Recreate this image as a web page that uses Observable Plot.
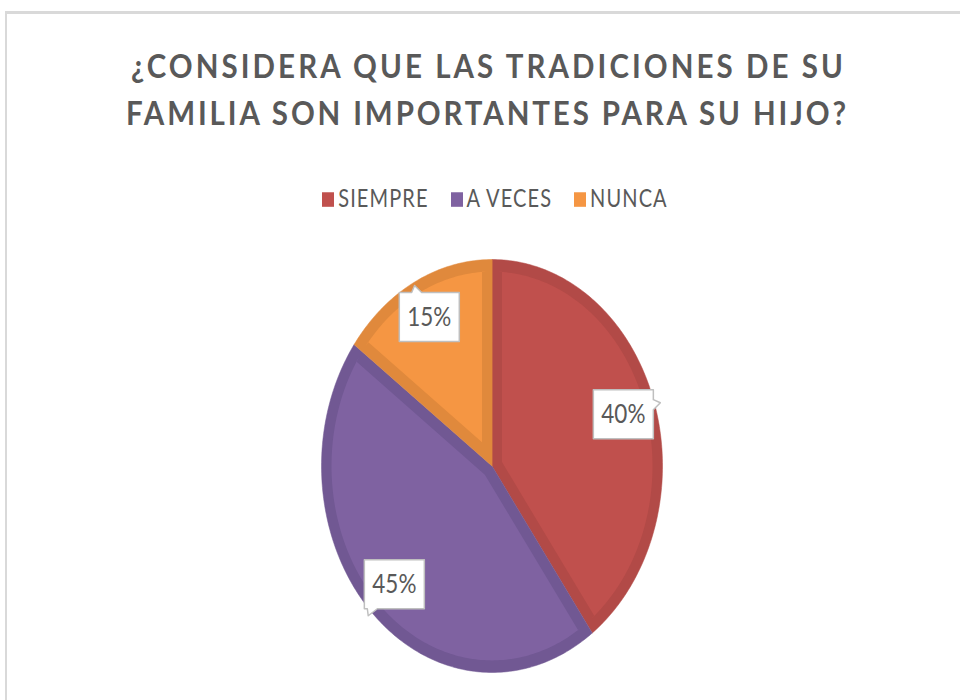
<!DOCTYPE html>
<html>
<head>
<meta charset="utf-8">
<script src="https://cdn.jsdelivr.net/npm/d3@7"></script>
<script src="https://cdn.jsdelivr.net/npm/@observablehq/plot@0.6"></script>
<style>
  html, body { margin: 0; padding: 0; background: #ffffff; }
  body { width: 960px; height: 700px; overflow: hidden; position: relative; font-family: Lato, "Open Sans", sans-serif; }
  #frame { position: absolute; left: 5px; top: 11px; width: 1200px; height: 1200px;
           border-left: 2px solid #d9d9d9; border-top: 3px solid #d9d9d9; box-sizing: border-box; }
  #head { position: relative; width: 960px; height: 230px; }
  .tline { position: absolute; white-space: nowrap; color: #595959; font-weight: 700;
           line-height: 1; transform-origin: 0 0; }
  .mark { display: inline-block; width: 0; height: 0; vertical-align: baseline; }
  #legend { position: absolute; white-space: nowrap; color: #595959; line-height: 1;
            transform-origin: 0 0; display: flex; align-items: baseline; }
  .item { display: inline-flex; align-items: baseline; }
  .sw { display: inline-block; width: 12px; height: 12px; margin-right: 4px; }
  #chart { position: relative; width: 960px; height: 470px; }
  #chart > svg { position: absolute; left: 0; top: 0; }
  #chart > svg.overlay { transform-origin: 0 0; }
</style>
</head>
<body>
<div id="frame"></div>
<div id="head"></div>
<div id="chart"></div>
<script>
// ---------------- data ----------------
const titleLines = ["¿CONSIDERA QUE LAS TRADICIONES DE SU", "FAMILIA SON IMPORTANTES PARA SU HIJO?"];
const categories = ["SIEMPRE", "A VECES", "NUNCA"];
const values = [40, 45, 15];

// ---------------- styles ----------------
const fillColors = ["#C0504D", "#7F62A1", "#F59643"];
const edgeColors = ["#B24A47", "#715893", "#E0893C"];
const textColor = "#595959";

// ---------------- layout ----------------
const W = 960, HEAD = 230, H = 700 - HEAD;
const CX = 491.5, CY = 465.5 - HEAD, RX = 170.5, RY = 206.5;
const K = RY / RX;            // vertical stretch of the whole picture
const BEVEL = 10 / RX;        // bevel band width in unit space
const LABEL_R = 0.81;

// ---------------- title ----------------
const head = document.getElementById("head");
function placeLine(text, left, right, baseline, size, k) {
  const el = document.createElement("div");
  el.className = "tline";
  el.style.fontSize = size + "px";
  const span = document.createElement("span");
  span.textContent = text;
  const mk = document.createElement("span");
  mk.className = "mark";
  el.appendChild(span); el.appendChild(mk);
  head.appendChild(el);
  const natural = span.getBoundingClientRect().width;
  const n = [...text].length;
  const ls = (right - left - natural) / (n - 1);
  el.style.letterSpacing = ls + "px";
  const base = mk.getBoundingClientRect().top - el.getBoundingClientRect().top;
  el.style.left = left + "px";
  el.style.top = (baseline - base * k) + "px";
  el.style.transform = `scale(1, ${k})`;
}
placeLine(titleLines[0], 131, 843, 77.5, 29.5, 1.11);
placeLine(titleLines[1], 126, 846, 125, 29.5, 1.11);

// ---------------- legend ----------------
const legend = document.createElement("div");
legend.id = "legend";
legend.style.fontSize = "20px";
legend.style.letterSpacing = "1.1px";
categories.forEach((c, i) => {
  const it = document.createElement("span");
  it.className = "item";
  if (i > 0) it.style.marginLeft = "22px";
  const sw = document.createElement("span");
  sw.className = "sw";
  sw.style.background = fillColors[i];
  const t = document.createElement("span");
  t.textContent = c;
  it.appendChild(sw); it.appendChild(t);
  legend.appendChild(it);
});
const lmk = document.createElement("span");
lmk.className = "mark";
legend.appendChild(lmk);
head.appendChild(legend);
{
  const r = legend.getBoundingClientRect();
  const base = lmk.getBoundingClientRect().top - r.top;
  legend.style.left = (495 - r.width / 2) + "px";
  legend.style.top = (206.5 - base * K) + "px";
  legend.style.transform = `scale(1, ${K})`;
}

// ---------------- pie geometry ----------------
const total = d3.sum(values);
let acc = 0;
const slices = values.map((v, i) => {
  const a0 = acc / total * 2 * Math.PI; acc += v;
  const a1 = acc / total * 2 * Math.PI;
  return {i, key: categories[i], value: v, a0, a1};
});

function wedge(a0, a1) {
  const pts = [[0, 0]];
  const n = Math.max(2, Math.ceil((a1 - a0) / (Math.PI / 180)));
  for (let k = 0; k <= n; k++) {
    const a = a0 + (a1 - a0) * k / n;
    pts.push([Math.sin(a), Math.cos(a)]);
  }
  return pts;
}
function inset(pts, d) {
  const n = pts.length;
  let area = 0;
  for (let i = 0; i < n; i++) { const [x1, y1] = pts[i], [x2, y2] = pts[(i + 1) % n]; area += x1 * y2 - x2 * y1; }
  const s = area > 0 ? 1 : -1;
  const lines = [];
  for (let i = 0; i < n; i++) {
    const p = pts[i], q = pts[(i + 1) % n];
    let ex = q[0] - p[0], ey = q[1] - p[1];
    const L = Math.hypot(ex, ey); ex /= L; ey /= L;
    const nx = -ey * s, ny = ex * s;
    lines.push({px: p[0] + nx * d, py: p[1] + ny * d, ux: ex, uy: ey});
  }
  const out = [];
  for (let i = 0; i < n; i++) {
    const A = lines[(i - 1 + n) % n], B = lines[i];
    const cr = A.ux * B.uy - A.uy * B.ux;
    if (Math.abs(cr) < 1e-9) { out.push([B.px, B.py]); continue; }
    const t = ((B.px - A.px) * B.uy - (B.py - A.py) * B.ux) / cr;
    out.push([A.px + A.ux * t, A.py + A.uy * t]);
  }
  return out;
}

const outerRows = [], innerRows = [];
slices.forEach(s => {
  const w = wedge(s.a0, s.a1);
  w.forEach(([x, y]) => outerRows.push({key: s.key, x, y}));
  inset(w, BEVEL).forEach(([x, y]) => innerRows.push({key: s.key, x, y}));
});

// labels and callouts
const clamp = (v, lo, hi) => Math.max(lo, Math.min(hi, v));
const labelRows = [], calloutRows = [];
slices.forEach(s => {
  const mid = (s.a0 + s.a1) / 2;
  const lx = LABEL_R * Math.sin(mid), ly = LABEL_R * Math.cos(mid);
  labelRows.push({key: s.key, x: lx, y: ly, label: d3.format(".0%")(s.value / total)});
  const ox = Math.sin(mid) * RX, oy = -Math.cos(mid) * RY;
  const hw = 30, hh = 24.5, bw = 5, tl = 7;
  let pts;
  if (Math.abs(oy) >= Math.abs(ox)) {
    const r = ox / Math.abs(oy);
    const b = clamp(r * hw, -(hw - 8), hw - 8), sh = clamp(r, -1, 1) * 5;
    if (oy < 0) pts = [[-hw, -hh], [b - bw, -hh], [b + sh, -hh - tl], [b + bw, -hh], [hw, -hh], [hw, hh], [-hw, hh]];
    else pts = [[-hw, -hh], [hw, -hh], [hw, hh], [b + bw, hh], [b + sh, hh + tl], [b - bw, hh], [-hw, hh]];
  } else {
    const r = oy / Math.abs(ox);
    const b = clamp(r * hh, -(hh - 8), hh - 8), sh = clamp(r, -1, 1) * 5;
    if (ox > 0) pts = [[-hw, -hh], [hw, -hh], [hw, b - bw], [hw + tl, b + sh], [hw, b + bw], [hw, hh], [-hw, hh]];
    else pts = [[-hw, -hh], [hw, -hh], [hw, hh], [-hw, hh], [-hw, b + bw], [-hw - tl, b + sh], [-hw, b - bw]];
  }
  pts.forEach(([px, py]) => calloutRows.push({key: s.key, x: lx + px / RX, y: ly - py / RY}));
});

// ---------------- plot: pie ----------------
const marks = [];
slices.forEach(s => {
  marks.push(Plot.line(outerRows.filter(d => d.key === s.key),
    {x: "x", y: "y", curve: "linear-closed", fill: edgeColors[s.i], stroke: edgeColors[s.i], strokeWidth: 0.5}));
  marks.push(Plot.line(innerRows.filter(d => d.key === s.key),
    {x: "x", y: "y", curve: "linear-closed", fill: fillColors[s.i], stroke: "none"}));
});
marks.push(Plot.line(calloutRows,
  {x: "x", y: "y", z: "key", curve: "linear-closed", fill: "#ffffff", stroke: "#bfbfbf", strokeWidth: 1.5}));

const chart = Plot.plot({
  width: W, height: H, margin: 0,
  style: {background: "transparent", overflow: "visible"},
  x: {domain: [-1, 1], range: [CX - RX, CX + RX], axis: null},
  y: {domain: [-1, 1], range: [CY + RY, CY - RY], axis: null},
  marks
});
document.getElementById("chart").appendChild(chart);

// ---------------- plot: labels (drawn unstretched, then stretched like the picture) ----------------
const labels = Plot.plot({
  width: W, height: H / K, margin: 0,
  style: {background: "transparent", overflow: "visible"},
  x: {domain: [-1, 1], range: [CX - RX, CX + RX], axis: null},
  y: {domain: [-1, 1], range: [(CY + RY) / K, (CY - RY) / K], axis: null},
  marks: [
    Plot.text(labelRows, {x: "x", y: "y", text: "label", fontSize: 22.5, fontFamily: "Lato, sans-serif", fill: textColor})
  ]
});
labels.classList.add("overlay");
labels.style.transform = `scale(1, ${K})`;
document.getElementById("chart").appendChild(labels);
</script>
</body>
</html>
